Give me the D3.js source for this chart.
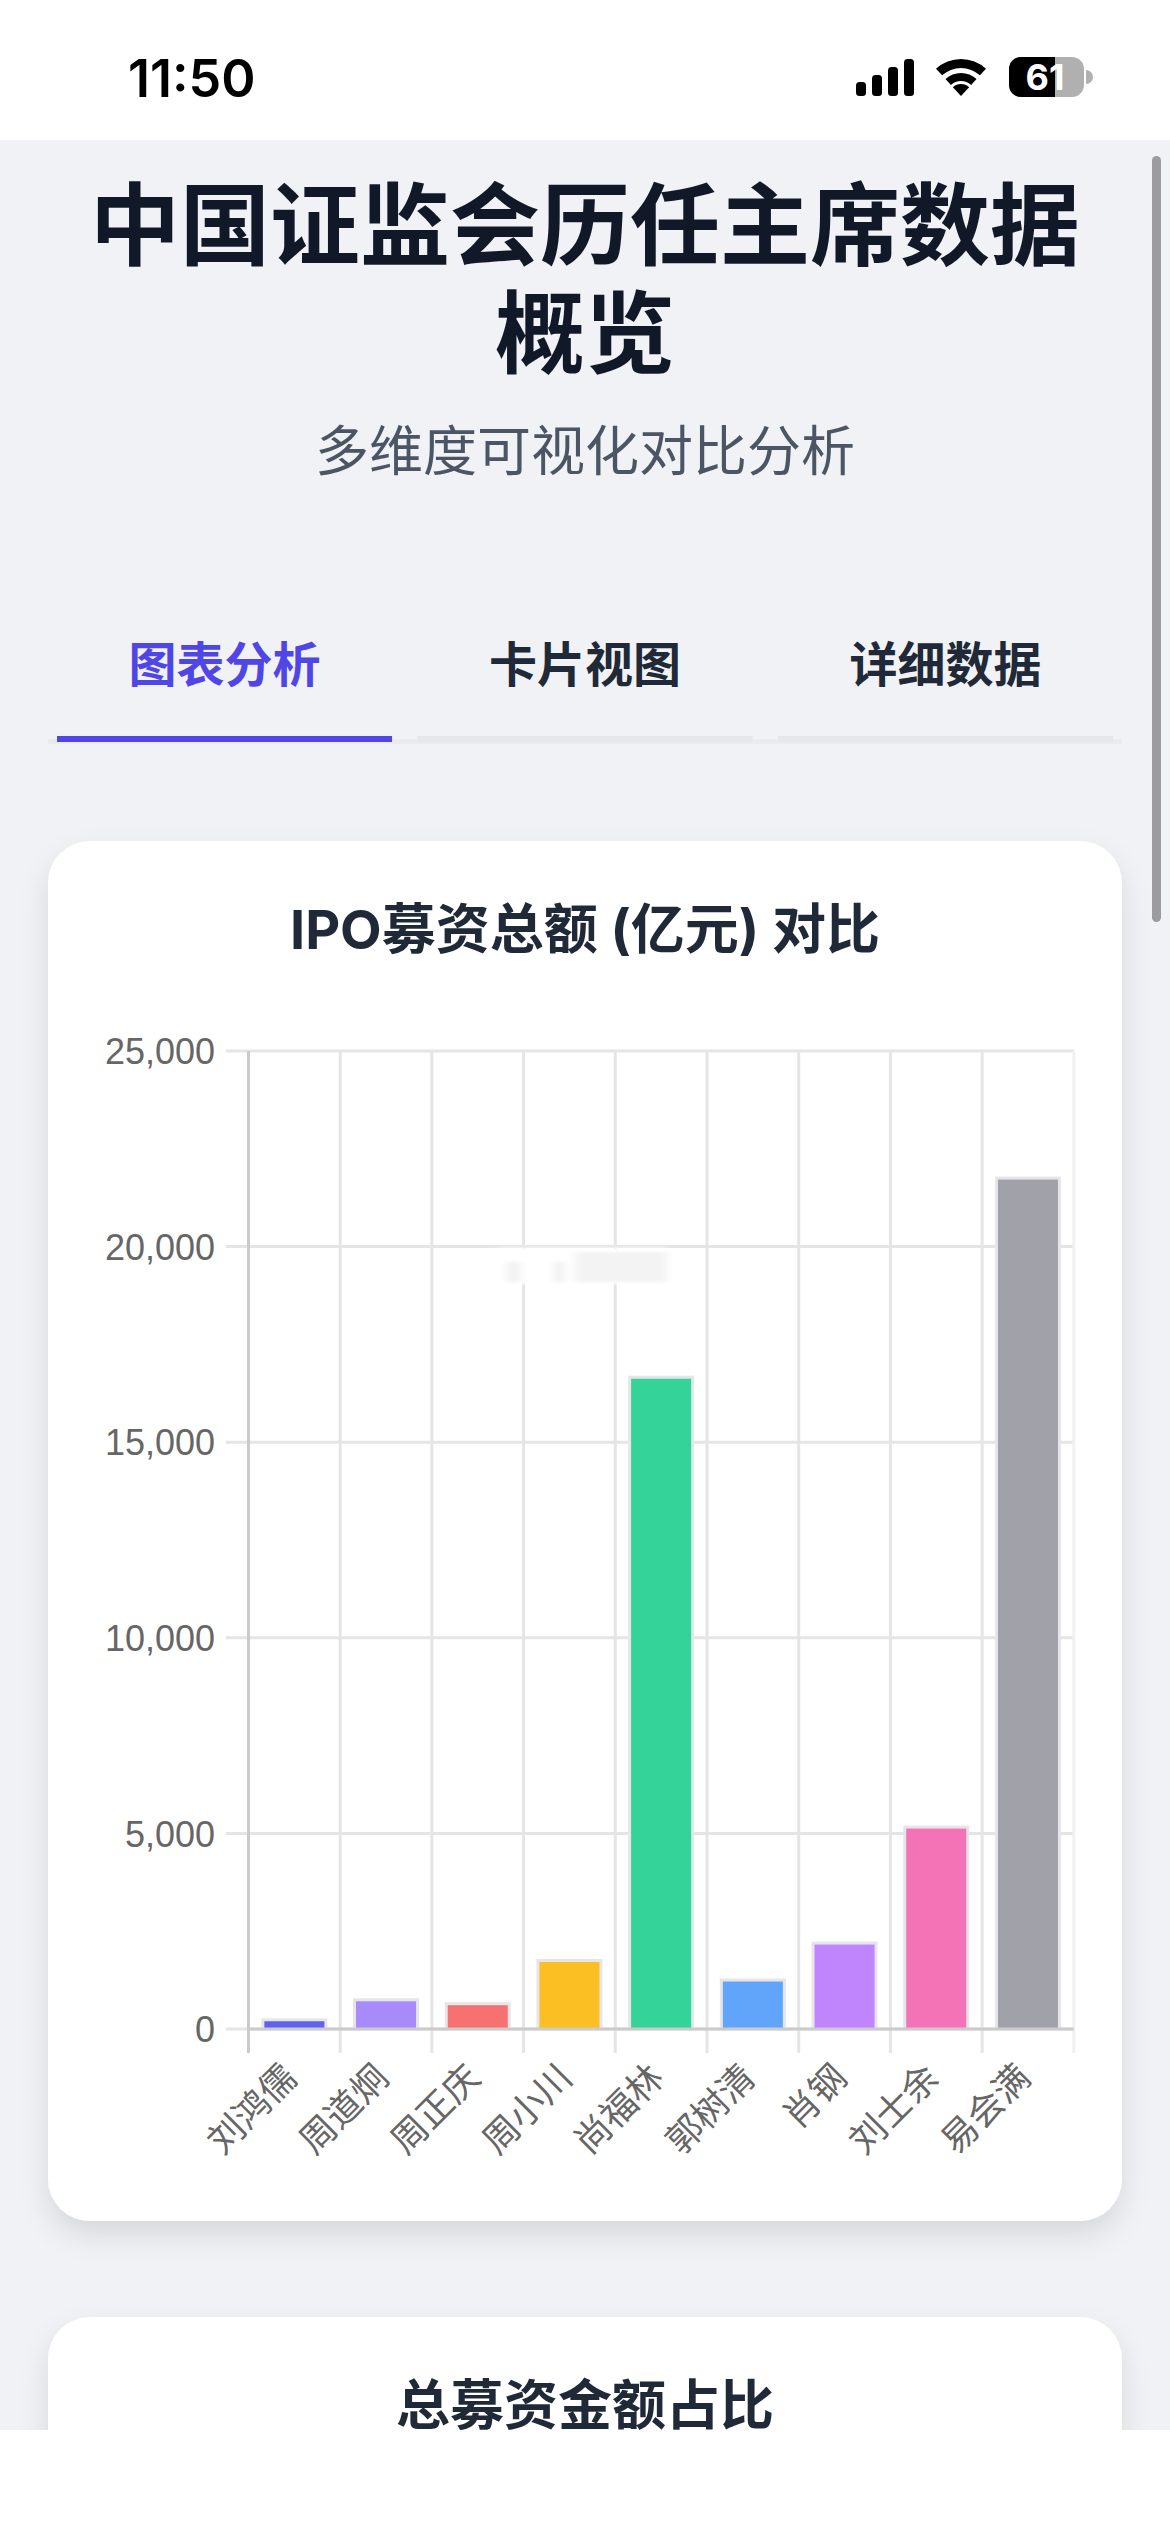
<!DOCTYPE html>
<html lang="zh-CN">
<head>
  <meta charset="UTF-8" />
  <title>中国证监会历任主席数据概览</title>
  <script src="https://d3js.org/d3.v7.min.js"></script>
  <style>
    html, body {
      margin: 0;
      padding: 0;
      width: 1170px;
      height: 2532px;
      overflow: hidden;
      background: #fff;
    }
    svg { display: block; }
    text { font-family: Inter, "Noto Sans CJK SC", sans-serif; }
    .tick-label text, .cat-label text { font-family: "Liberation Sans", "Noto Sans CJK SC", sans-serif; fill: #666; font-size: 36px; }
  </style>
</head>
<body>
<svg width="1170" height="2532"></svg>

<script>
const chairmen = ["刘鸿儒", "周道炯", "周正庆", "周小川", "尚福林", "郭树清", "肖钢", "刘士余", "易会满"];
const ipoTotals = [275, 785, 685, 1790, 16700, 1290, 2235, 5200, 21790];
const barColors = ["#5f62f0", "#a78bfa", "#f87171", "#fbbf24", "#34d399", "#60a5fa", "#c084fc", "#f472b6", "#a1a1aa"];
const yTicks = [0, 5000, 10000, 15000, 20000, 25000];
const tabs = ["图表分析", "卡片视图", "详细数据"];

const svg = d3.select("svg");

const defs = svg.append("defs");
const shadow = defs.append("filter").attr("id", "card-shadow")
  .attr("x", "-10%").attr("y", "-10%").attr("width", "120%").attr("height", "120%");
shadow.append("feDropShadow").attr("dx", 0).attr("dy", 14).attr("stdDeviation", 14)
  .attr("flood-color", "#000").attr("flood-opacity", 0.11);
defs.append("filter").attr("id", "smear").append("feGaussianBlur").attr("stdDeviation", "4 1.5");

// page
svg.append("rect").attr("width", 1170).attr("height", 2532).attr("fill", "#fff");
svg.append("rect").attr("y", 140).attr("width", 1170).attr("height", 2290).attr("fill", "#f0f2f5");

drawStatusBar();

// heading
const heading = svg.append("g").attr("text-anchor", "middle");
heading.append("text").attr("x", 585).attr("y", 258).text("中国证监会历任主席数据")
  .attr("font-size", 90).attr("font-weight", 700).attr("fill", "#111827");
heading.append("text").attr("x", 585).attr("y", 366).text("概览")
  .attr("font-size", 90).attr("font-weight", 700).attr("fill", "#111827");
heading.append("text").attr("x", 585).attr("y", 471).text("多维度可视化对比分析")
  .attr("font-size", 54).attr("fill", "#4b5563");

// tabs
svg.append("rect").attr("x", 48).attr("y", 739).attr("width", 1074).attr("height", 5).attr("fill", "#e9ebee");
const tabX = d3.scaleBand().domain(tabs).range([57, 1113]).paddingInner(0.0705);
tabs.forEach((t, i) => {
  svg.append("rect").attr("x", tabX(t)).attr("y", 736).attr("width", tabX.bandwidth()).attr("height", 6)
    .attr("fill", i === 0 ? "#4f46e5" : "#e5e7eb");
  svg.append("text").attr("x", tabX(t) + tabX.bandwidth() / 2).attr("y", 682).text(t)
    .attr("text-anchor", "middle").attr("font-size", 48).attr("font-weight", 700)
    .attr("fill", i === 0 ? "#4f46e5" : "#1f2937");
});

// cards
svg.append("rect").attr("x", 48).attr("y", 841).attr("width", 1074).attr("height", 1380).attr("rx", 42)
  .attr("fill", "#fff").attr("filter", "url(#card-shadow)");
svg.append("rect").attr("x", 48).attr("y", 2317).attr("width", 1074).attr("height", 400).attr("rx", 42)
  .attr("fill", "#fff").attr("filter", "url(#card-shadow)");

svg.append("text").attr("x", 585).attr("y", 949).text("IPO募资总额 (亿元) 对比")
  .attr("text-anchor", "middle").attr("font-size", 54).attr("font-weight", 700).attr("fill", "#1f2937");
svg.append("text").attr("x", 585).attr("y", 2425).text("总募资金额占比")
  .attr("text-anchor", "middle").attr("font-size", 54).attr("font-weight", 700).attr("fill", "#1f2937");

// bar chart
const x = d3.scaleBand().domain(chairmen).range([248.5, 1073.8]);
const y = d3.scaleLinear().domain([0, 25000]).range([2029, 1051]);
const chart = svg.append("g");

chart.append("g").selectAll("line").data(yTicks).join("line")
  .attr("x1", 226).attr("x2", 1074)
  .attr("y1", d => y(d)).attr("y2", d => y(d))
  .attr("stroke", "#e5e5e5").attr("stroke-width", 3);

const gridX = chairmen.map(d => x(d)).concat(x.range()[1]);
chart.append("g").selectAll("line").data(gridX).join("line")
  .attr("x1", d => d).attr("x2", d => d)
  .attr("y1", y(25000)).attr("y2", 2053)
  .attr("stroke", (d, i) => i === 9 ? "#f1f1f1" : "#e5e5e5").attr("stroke-width", 3);

// axis lines sit over the grid
chart.append("line").attr("x1", x.range()[0]).attr("x2", x.range()[0]).attr("y1", y(25000)).attr("y2", 2053)
  .attr("stroke", "#cbcbcb").attr("stroke-width", 3);

const barW = x.bandwidth() * 0.72;
const bars = chart.append("g").selectAll("g").data(chairmen).join("g");
bars.append("rect")
  .attr("x", d => x(d) + (x.bandwidth() - barW) / 2)
  .attr("width", barW)
  .attr("y", (d, i) => y(ipoTotals[i]))
  .attr("height", (d, i) => y(0) - y(ipoTotals[i]))
  .attr("fill", "#e6e6ea");
bars.append("rect")
  .attr("x", d => x(d) + (x.bandwidth() - barW) / 2 + 3)
  .attr("width", barW - 6)
  .attr("y", (d, i) => y(ipoTotals[i]) + 3)
  .attr("height", (d, i) => y(0) - y(ipoTotals[i]) - 3)
  .attr("fill", (d, i) => barColors[i]);

chart.append("line").attr("x1", x.range()[0]).attr("x2", x.range()[1]).attr("y1", y(0)).attr("y2", y(0))
  .attr("stroke", "#cbcbcb").attr("stroke-width", 3);

const yAxis = chart.append("g").attr("class", "tick-label")
  .attr("transform", "translate(215,0)")
  .call(d3.axisLeft(y).tickValues(yTicks).tickFormat(d3.format(",")).tickSize(0).tickPadding(0));
yAxis.select(".domain").remove();
yAxis.selectAll("text").attr("dy", "0.35em");

const xAxis = chart.append("g").attr("class", "cat-label")
  .attr("transform", "translate(0,2029)")
  .call(d3.axisBottom(x).tickSize(0).tickPadding(0));
xAxis.select(".domain").remove();
xAxis.selectAll("text")
  .attr("text-anchor", "end")
  .attr("dy", null)
  .attr("y", 0)
  .attr("transform", "translate(-2,44) rotate(-45)")
  .attr("dominant-baseline", "middle");

// blurred-out patch over the plot
const patch = svg.append("g").attr("filter", "url(#smear)");
patch.append("rect").attr("x", 497).attr("y", 1248).attr("width", 170).attr("height", 36).attr("fill", "#fff");
patch.append("rect").attr("x", 575).attr("y", 1252).attr("width", 92).attr("height", 30).attr("fill", "#eeeeee").attr("opacity", 0.7);
patch.append("rect").attr("x", 555).attr("y", 1262).attr("width", 8).attr("height", 20).attr("fill", "#ececec");
patch.append("rect").attr("x", 507).attr("y", 1262).attr("width", 14).attr("height", 20).attr("fill", "#f2f2f2");

// scrollbar
svg.append("rect").attr("x", 1152).attr("y", 156).attr("width", 9).attr("height", 766).attr("rx", 4.5).attr("fill", "#9c9ca0");

// screenshot's white strip at the bottom
svg.append("rect").attr("y", 2430).attr("width", 1170).attr("height", 102).attr("fill", "#fff");

function drawStatusBar() {
  const bar = svg.append("g");
  bar.append("text").attr("x", 128).attr("y", 97).text("11:50")
    .attr("font-size", 52).attr("font-weight", 600).attr("fill", "#000");

  const signal = [14, 21, 29, 37];
  bar.append("g").selectAll("rect").data(signal).join("rect")
    .attr("x", (d, i) => 856 + i * 16)
    .attr("y", d => 96 - d)
    .attr("width", 10).attr("height", d => d).attr("rx", 3.5);

  const wifi = bar.append("g").attr("transform", "translate(961,96)");
  const span = Math.PI * 0.236;
  wifi.append("path").attr("d", d3.arc()({ innerRadius: 0, outerRadius: 12, startAngle: -span, endAngle: span }));
  wifi.append("path").attr("d", d3.arc()({ innerRadius: 15, outerRadius: 23, startAngle: -span, endAngle: span }));
  wifi.append("path").attr("d", d3.arc()({ innerRadius: 28, outerRadius: 37, startAngle: -span, endAngle: span }));

  defs.append("clipPath").attr("id", "batt").append("rect")
    .attr("x", 1009).attr("y", 57).attr("width", 75).attr("height", 40).attr("rx", 12);
  const batt = bar.append("g").attr("clip-path", "url(#batt)");
  batt.append("rect").attr("x", 1009).attr("y", 57).attr("width", 75).attr("height", 40).attr("fill", "#b0b0b0");
  batt.append("rect").attr("x", 1009).attr("y", 57).attr("width", 46).attr("height", 40).attr("fill", "#000");
  bar.append("path").attr("d", "M1086,70 a7,7 0 0 1 0,14 z").attr("fill", "#b0b0b0");
  bar.append("text").attr("x", 1045).attr("y", 90).text("61").attr("text-anchor", "middle")
    .attr("font-size", 36).attr("font-weight", 700).attr("fill", "#fff");
}
</script>
</body>
</html>
